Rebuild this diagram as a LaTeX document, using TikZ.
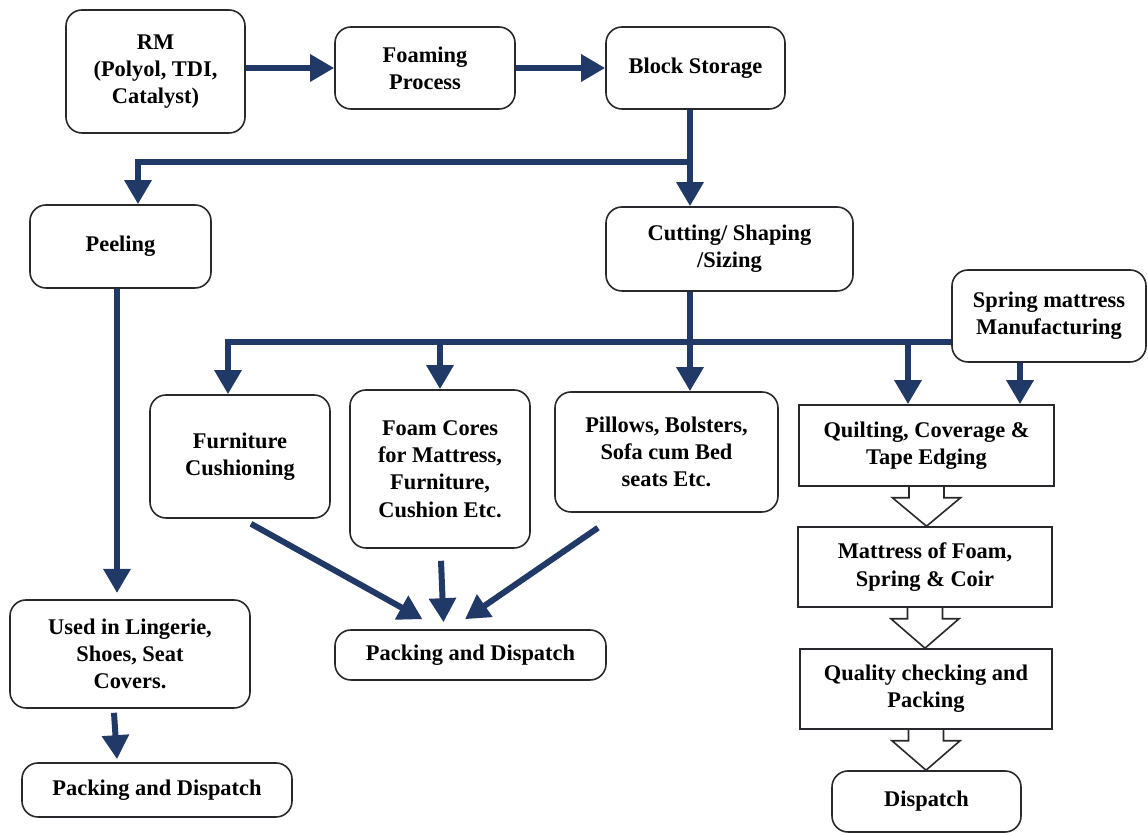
\documentclass[tikz,border=0pt]{standalone}
\usepackage{fontspec}
\setmainfont{Liberation Serif}
\usetikzlibrary{arrows.meta,calc}
\definecolor{navy}{RGB}{33,57,102}
\definecolor{edge}{RGB}{40,40,45}
\begin{document}
\begin{tikzpicture}[x=0.5pt,y=-0.5pt,
  txt/.style={font=\bfseries\fontsize{11.2}{13.6}\selectfont, align=center, inner sep=0pt},
  rbox/.style={txt, draw=edge, line width=0.8pt, rounded corners=8pt},
  sbox/.style={txt, draw=edge, line width=0.8pt},
  arr/.style={draw=navy, line width=3pt, -{Triangle[length=12pt,width=13pt]}},
  bus/.style={draw=navy, line width=3pt},
  hollow/.style={draw=edge, line width=0.8pt, line join=miter}]
\useasboundingbox (0,0) rectangle (1148,833);
% nodes
\node[rbox, minimum width=89.5pt, minimum height=61.5pt] (rm) at (155.5,71.5) {RM\\(Polyol, TDI,\\Catalyst)};
\node[rbox, minimum width=90pt, minimum height=41pt] (foam) at (425,68) {Foaming\\Process};
\node[rbox, minimum width=89.5pt, minimum height=41pt] (block) at (695.5,68) {Block Storage};
\node[rbox, minimum width=90.5pt, minimum height=41.5pt] (peel) at (120.5,246.5) {Peeling};
\node[rbox, minimum width=123.5pt, minimum height=42pt] (cut) at (729.5,249) {Cutting/ Shaping\\/Sizing};
\node[rbox, minimum width=97pt, minimum height=46pt] (spring) at (1049,316) {Spring mattress\\Manufacturing};
\node[rbox, minimum width=90pt, minimum height=61.5pt] (furn) at (240,456.5) {Furniture\\Cushioning};
\node[rbox, minimum width=90pt, minimum height=79pt] (fc) at (440,469) {Foam Cores\\for Mattress,\\Furniture,\\Cushion Etc.};
\node[rbox, minimum width=111.5pt, minimum height=60pt] (pil) at (666.5,452) {Pillows, Bolsters,\\Sofa cum Bed\\seats Etc.};
\node[sbox, minimum width=127.5pt, minimum height=40.5pt] (quilt) at (926.5,445.5) {Quilting, Coverage \&\\Tape Edging};
\node[sbox, minimum width=127pt, minimum height=40pt] (mat) at (925,567) {Mattress of Foam,\\Spring \& Coir};
\node[sbox, minimum width=126pt, minimum height=40pt] (qual) at (926,689) {Quality checking and\\Packing};
\node[rbox, minimum width=94.5pt, minimum height=30.5pt] (disp) at (926.5,801.5) {Dispatch};
\node[rbox, minimum width=120pt, minimum height=54pt] (used) at (130,654) {Used in Lingerie,\\Shoes, Seat\\Covers.};
\node[rbox, minimum width=135pt, minimum height=27pt] (pl) at (157,790) {Packing and Dispatch};
\node[rbox, minimum width=135.5pt, minimum height=25pt] (pc) at (470.5,655) {Packing and Dispatch};
% junctions
\coordinate (j1) at (690,162);
\coordinate (j2) at (138,162);
\coordinate (j3) at (228,342);
\coordinate (j4) at (440,342);
\coordinate (j5) at (908,342);
\coordinate (j6) at (1020,342);
\coordinate (j7) at (117,593);
% top row
\draw[arr] (foam.west -| rm.east) -- (foam.west);
\draw[arr] (foam.east) -- (block.west);
% block storage split
\draw[bus] (block.south -| j1) -- (j1);
\draw[arr] (j1) -- (j2) -- (peel.north -| j2);
\draw[arr] (j1) -- (cut.north -| j1);
% cutting bus
\draw[arr] (cut.south -| j1) -- (pil.north -| j1);
\draw[arr] (spring.west |- j3) -- (j3) -- (furn.north -| j3);
\draw[arr] (j4) -- (fc.north -| j4);
\draw[arr] (j5) -- (quilt.north -| j5);
\draw[arr] (spring.south -| j6) -- (quilt.north -| j6);
% to packing center
\draw[arr] ($(furn.south)+(11,5)$) -- ($(pc.north)+(-48,-10)$);
\draw[arr] ($(fc.south)+(1,12)$) -- ($(pc.north)+(-27,-7)$);
\draw[arr] ($(pil.south)+(-68.5,15)$) -- ($(pc.north)+(-5.5,-10)$);
% peeling branch
\draw[arr] (peel.south -| j7) -- (j7);
\draw[arr] ($(used.south)+(-16,4)$) -- ($(pl.north)+(-40,-3)$);
% hollow arrows
\foreach \a/\b in {quilt/mat, mat/qual, qual/disp}{
  \draw[hollow] ($(\a.south)+(-17.5,0)$) -- ++(0,11) -- ++(-16.5,0) -- (\a.south |- \b.north)
    -- ($(\a.south)+(34,11)$) -- ($(\a.south)+(17.5,11)$) -- ($(\a.south)+(17.5,0)$);
}
\end{tikzpicture}
\end{document}
